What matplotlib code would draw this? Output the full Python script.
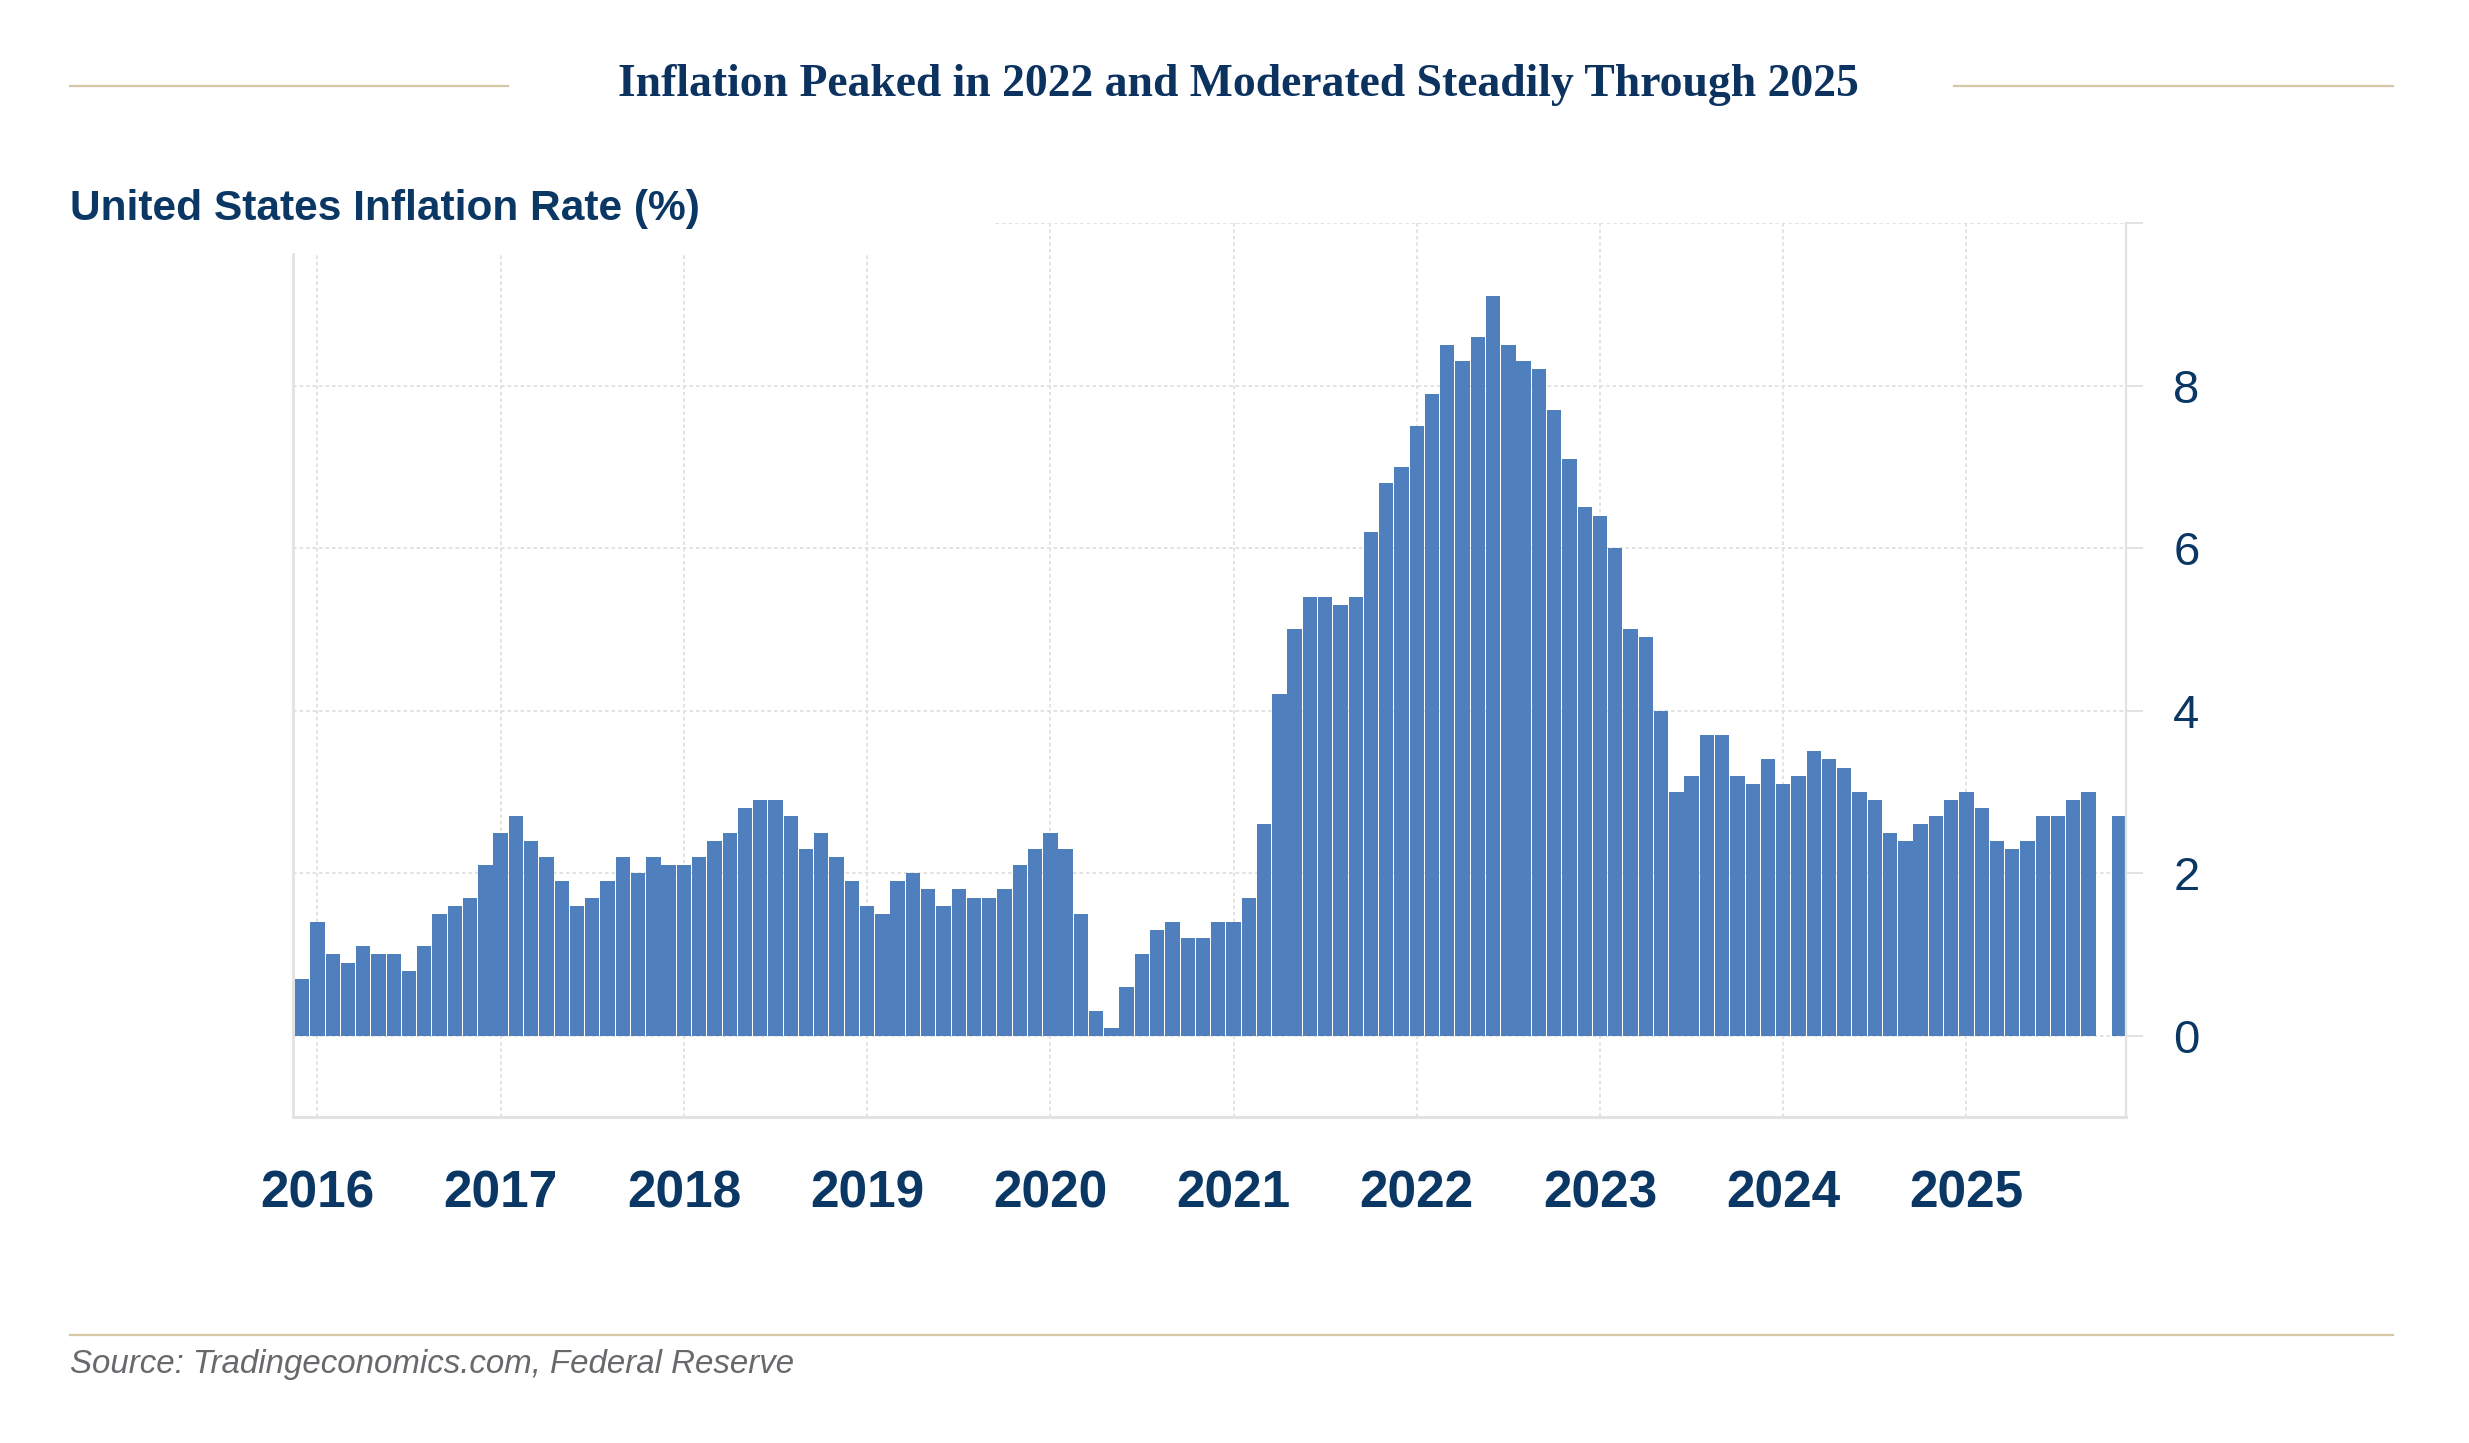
import numpy as np
import matplotlib
matplotlib.use("Agg")
import matplotlib.pyplot as plt
from matplotlib import transforms
from matplotlib.lines import Line2D
from matplotlib.patches import Rectangle

# ---------------- data (US CPI YoY %, monthly) ----------------
start_label = "2015-12"
cpi_2015 = [0.7]  # Dec 2015
cpi_2016 = [1.4, 1.0, 0.9, 1.1, 1.0, 1.0, 0.8, 1.1, 1.5, 1.6, 1.7, 2.1]
cpi_2017 = [2.5, 2.7, 2.4, 2.2, 1.9, 1.6, 1.7, 1.9, 2.2, 2.0, 2.2, 2.1]
cpi_2018 = [2.1, 2.2, 2.4, 2.5, 2.8, 2.9, 2.9, 2.7, 2.3, 2.5, 2.2, 1.9]
cpi_2019 = [1.6, 1.5, 1.9, 2.0, 1.8, 1.6, 1.8, 1.7, 1.7, 1.8, 2.1, 2.3]
cpi_2020 = [2.5, 2.3, 1.5, 0.3, 0.1, 0.6, 1.0, 1.3, 1.4, 1.2, 1.2, 1.4]
cpi_2021 = [1.4, 1.7, 2.6, 4.2, 5.0, 5.4, 5.4, 5.3, 5.4, 6.2, 6.8, 7.0]
cpi_2022 = [7.5, 7.9, 8.5, 8.3, 8.6, 9.1, 8.5, 8.3, 8.2, 7.7, 7.1, 6.5]
cpi_2023 = [6.4, 6.0, 5.0, 4.9, 4.0, 3.0, 3.2, 3.7, 3.7, 3.2, 3.1, 3.4]
cpi_2024 = [3.1, 3.2, 3.5, 3.4, 3.3, 3.0, 2.9, 2.5, 2.4, 2.6, 2.7, 2.9]
cpi_2025 = [3.0, 2.8, 2.4, 2.3, 2.4, 2.7, 2.7, 2.9, 3.0, np.nan, 2.7]  # Oct missing

year_labels = ["2016", "2017", "2018", "2019", "2020",
               "2021", "2022", "2023", "2024", "2025"]
y_ticks = [0, 2, 4, 6, 8, 10]
y_tick_labels = ["0", "2", "4", "6", "8", ""]

title = "Inflation Peaked in 2022 and Moderated Steadily Through 2025"
subtitle = "United States Inflation Rate (%)"
source = "Source: Tradingeconomics.com, Federal Reserve"

# ---------------- styling ----------------
NAVY = "#0a3764"
TITLE_NAVY = "#0c3260"
BAR = "#4f80bd"
GRID = "#e0e0e0"
SPINE = "#e2e2e2"
TAN = "#d6c8a2"
GREY_TXT = "#68686d"

W, H = 2469, 1443
fig = plt.figure(figsize=(W / 100, H / 100), dpi=100)
fig.patch.set_facecolor("white")

def fx(px):
    return px / W

def fy(py):
    return 1 - py / H

values = np.array(cpi_2015 + cpi_2016 + cpi_2017 + cpi_2018 + cpi_2019 +
                  cpi_2020 + cpi_2021 + cpi_2022 + cpi_2023 + cpi_2024 +
                  cpi_2025, dtype=float)
idx = np.arange(len(values))
valid = ~np.isnan(values)
jan_idx = [1 + 12 * i for i in range(len(year_labels))]

ax = fig.add_axes([fx(293), fy(1117), fx(2126) - fx(293), fy(223) - fy(1117)])
ax.set_xlim(-0.6, 119.45)
ax.set_ylim(-1, 10)

# grid
for lv in [0, 2, 4, 6, 8]:
    ax.axhline(lv, color=GRID, lw=1.3, ls=(0, (2, 1.6)), zorder=1)
ax.hlines(10, 45.0, 119.45, color=GRID, lw=1.3, ls=(0, (2, 1.6)), zorder=1)
for j in jan_idx:
    ax.axvline(j, color=GRID, lw=1.3, ls=(0, (2, 1.6)), zorder=1)

ax.bar(idx[valid], values[valid], width=0.94, color=BAR, linewidth=0, zorder=2)

# spines
ax.spines["top"].set_visible(False)
for s in ["left", "right", "bottom"]:
    ax.spines[s].set_color(SPINE)
ax.spines["left"].set_linewidth(2.0)
ax.spines["right"].set_linewidth(1.6)
ax.spines["bottom"].set_linewidth(2.2)

ax.set_xticks([])
ax.yaxis.tick_right()
ax.set_yticks(y_ticks)
ax.set_yticklabels(y_tick_labels)
ax.tick_params(axis="y", length=12, width=1.4, color=SPINE, pad=22,
               labelsize=34, labelcolor=NAVY)
for t in ax.get_yticklabels():
    t.set_fontfamily("Liberation Sans")

# year labels under the axis
blend = transforms.blended_transform_factory(ax.transData, fig.transFigure)
for j, lab in zip(jan_idx, year_labels):
    ax.text(j, fy(1208), lab, transform=blend, ha="center", va="baseline",
            fontsize=37, fontweight="bold", color=NAVY,
            family="Liberation Sans", clip_on=False)

# white box masking the top-left of the plot area (behind subtitle)
fig.patches.append(Rectangle((0, fy(253)), fx(993), 1 - fy(253),
                             transform=fig.transFigure, facecolor="white",
                             edgecolor="none", zorder=1))

# title and decorative lines
fig.text(fx(1238), fy(96), title, ha="center", va="baseline", fontsize=32.9,
         fontweight="bold", family="Liberation Serif", color=TITLE_NAVY, zorder=3)
for x0, x1 in [(70, 508), (1954, 2393)]:
    fig.add_artist(Line2D([fx(x0), fx(x1)], [fy(85.5), fy(85.5)],
                          transform=fig.transFigure, color=TAN, lw=1.6, zorder=2))

fig.text(fx(70), fy(220), subtitle, ha="left", va="baseline", fontsize=30.6,
         fontweight="bold", family="Liberation Sans", color=NAVY, zorder=3)

fig.add_artist(Line2D([fx(70), fx(2393)], [fy(1335), fy(1335)],
                      transform=fig.transFigure, color=TAN, lw=1.6, zorder=2))
fig.text(fx(70), fy(1373), source, ha="left", va="baseline", fontsize=23.8,
         style="italic", family="Liberation Sans", color=GREY_TXT, zorder=3)

fig.savefig("out.png", dpi=100, facecolor="white")
